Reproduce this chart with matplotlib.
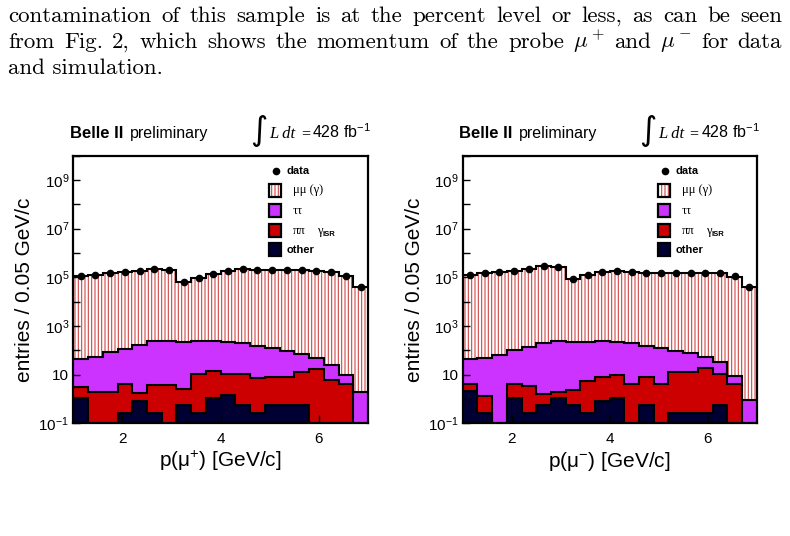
import numpy as np
import matplotlib
matplotlib.use('Agg')
import matplotlib.pyplot as plt
from matplotlib.patches import Rectangle
from matplotlib.ticker import NullLocator

plt.rcParams['font.family'] = ['Liberation Sans', 'DejaVu Sans']
plt.rcParams['mathtext.fontset'] = 'custom'
plt.rcParams['mathtext.rm'] = 'Liberation Sans'
plt.rcParams['mathtext.it'] = 'Liberation Sans:italic'
plt.rcParams['mathtext.bf'] = 'Liberation Sans:bold'
plt.rcParams['hatch.linewidth'] = 0.8

W, H = 790, 536

# bin edges in GeV/c
edges = np.round(np.arange(1.0, 7.01, 0.3), 2)

# probe mu+
data_p = [1.16e5, 1.28e5, 1.45e5, 1.59e5, 1.86e5, 2.25e5, 1.99e5, 6.6e4, 9.3e4, 1.36e5,
          1.86e5, 2.18e5, 1.99e5, 1.99e5, 1.99e5, 1.92e5, 1.86e5, 1.64e5, 1.16e5, 3.9e4]
mumu_p = [1.15e5, 1.27e5, 1.44e5, 1.58e5, 1.85e5, 2.24e5, 1.98e5, 6.6e4, 9.2e4, 1.35e5,
          1.85e5, 2.17e5, 1.98e5, 1.98e5, 1.98e5, 1.91e5, 1.85e5, 1.63e5, 1.15e5, 3.9e4]
tautau_p = [42, 50, 82, 111, 171, 247, 240, 219, 227, 230,
            219, 185, 150, 118, 90, 60, 33, 20, 5.1, 1.9]
pipi_p = [2.0, 1.9, 1.9, 4.0, 0.93, 3.6, 3.6, 2.1, 9.9, 12.9,
          8.8, 10.4, 6.9, 7.4, 7.7, 11.8, 16.3, 5.8, 4.2, 0]
other_p = [1.1, 0, 0, 0.27, 0.82, 0.27, 0, 0.55, 0.27, 1.1,
           1.4, 0.55, 0.27, 0.55, 0.55, 0.55, 0, 0, 0, 0]

# probe mu-
data_m = [1.24e5, 1.45e5, 1.59e5, 1.86e5, 2.18e5, 2.81e5, 2.55e5, 8.5e4, 1.24e5, 1.70e5,
          1.86e5, 1.70e5, 1.55e5, 1.45e5, 1.45e5, 1.45e5, 1.50e5, 1.50e5, 1.09e5, 3.9e4]
mumu_m = [1.23e5, 1.44e5, 1.58e5, 1.85e5, 2.17e5, 2.80e5, 2.54e5, 8.4e4, 1.23e5, 1.69e5,
          1.85e5, 1.69e5, 1.54e5, 1.44e5, 1.44e5, 1.44e5, 1.49e5, 1.49e5, 1.08e5, 3.9e4]
tautau_m = [38, 48, 67, 104, 140, 194, 249, 227, 224, 229,
            219, 192, 149, 118, 85, 63, 37, 22, 4.4, 0.88]
pipi_m = [1.9, 1.0, 0, 2.9, 3.0, 1.0, 0.8, 1.9, 5.0, 7.4,
          8.8, 4.0, 7.7, 4.0, 12.4, 12.4, 18.2, 10.4, 4.0, 0]
other_m = [2.1, 0.27, 0, 1.1, 0.27, 0.55, 1.1, 0.55, 0.27, 0.8,
           1.1, 0, 0.55, 0, 0.27, 0.27, 0.27, 0.55, 0, 0]

ytick_exp = list(range(-1, 11))
ytick_labels = ['' if e % 2 == 0 else ('10' if e == 1 else r'$10^{%d}$' % e) for e in ytick_exp]

fill_colors = ['#000033', '#cc0000', '#cc33ff']
hatch_color = '#d04848'
page_line1 = 'contamination of this sample is at the percent level or less, as can be seen'
page_line2 = r'from Fig. 2, which shows the momentum of the probe $\mu^+$ and $\mu^-$ for data'
page_line3 = 'and simulation.'


def draw_panel(ax, data, mumu, tautau, pipi, other, xlabel):
    cum = np.cumsum(np.array([other, pipi, tautau, mumu], float), axis=0)
    lo = np.full(len(edges) - 1, 1e-3)
    for i in range(4):
        top = np.maximum(cum[i], 1e-3)
        if i < 3:
            ax.stairs(top, edges, baseline=lo, fill=True, color=fill_colors[i], lw=0)
        else:
            ax.stairs(top, edges, baseline=lo, fill=True, facecolor='white',
                      edgecolor=hatch_color, hatch='|||||', lw=0)
        lo = top
    for i in range(4):
        ax.stairs(np.maximum(cum[i], 1e-3), edges, baseline=None, color='k', lw=1.5)
    centers = 0.5 * (edges[1:] + edges[:-1])
    ax.plot(centers, data, 'o', color='k', ms=4.5, zorder=5)

    ax.set_yscale('log')
    ax.set_xlim(1, 7)
    ax.set_ylim(0.1, 1e10)
    ax.set_yticks([10.0 ** e for e in ytick_exp])
    ax.set_yticklabels(ytick_labels)
    ax.yaxis.set_minor_locator(NullLocator())
    ax.set_xticks([2, 4, 6])
    ax.set_xticklabels(['2', '4', '6'])
    ax.xaxis.set_minor_locator(NullLocator())
    ax.tick_params(axis='y', direction='in', length=5, width=1, labelsize=11, pad=3)
    ax.tick_params(axis='x', direction='in', length=6, width=1, labelsize=11, pad=6)
    for s in ax.spines.values():
        s.set_linewidth(1.6)

    tr = ax.transAxes
    ax.text(-0.164, 0.5, 'entries / 0.05 GeV/c', rotation=90, fontsize=15,
            ha='center', va='center', transform=tr)
    ax.text(0.5, -0.141, xlabel, fontsize=15, ha='center', va='center', transform=tr)

    # header
    ax.text(-0.011, 1.066, 'Belle II', weight='bold', fontsize=12, va='baseline', transform=tr)
    ax.text(0.192, 1.066, 'preliminary', fontsize=11.5, va='baseline', transform=tr)
    ax.text(0.600, 1.093, '\u222b', family='DejaVu Sans', fontsize=24, va='center', transform=tr)
    ax.text(0.664, 1.066, 'L dt', family='Liberation Serif', style='italic', fontsize=12,
            va='baseline', transform=tr)
    ax.text(0.772, 1.066, '=', family='Liberation Serif', fontsize=11.5, va='baseline', transform=tr)
    ax.text(0.810, 1.066, r'428 fb$^{-1}$', fontsize=11.5, va='baseline', transform=tr)

    # legend
    ax.plot([0.688], [0.944], 'o', color='k', ms=4.5, transform=tr, clip_on=False, zorder=6)
    ax.text(0.725, 0.944, 'data', weight='bold', fontsize=8, va='center', transform=tr)
    box_x, box_w, box_h = 0.664, 0.041, 0.048
    rows = [0.870, 0.795, 0.720, 0.648]
    ax.add_patch(Rectangle((box_x, rows[0] - box_h / 2), box_w, box_h, transform=tr,
                           facecolor='white', edgecolor=hatch_color, hatch='|||||', lw=0,
                           zorder=6))
    for y, c in zip(rows[1:], ['#cc33ff', '#cc0000', '#000033']):
        ax.add_patch(Rectangle((box_x, y - box_h / 2), box_w, box_h, transform=tr,
                               facecolor=c, edgecolor='none', zorder=6))
    for y in rows:
        ax.add_patch(Rectangle((box_x, y - box_h / 2), box_w, box_h, transform=tr,
                               facecolor='none', edgecolor='k', lw=1.6, zorder=7))
    ax.text(0.745, rows[0], '\u03bc\u03bc (\u03b3)', family='Liberation Serif', fontsize=9,
            va='center', transform=tr)
    ax.text(0.745, rows[1], '\u03c4\u03c4', family='Liberation Serif', fontsize=9,
            va='center', transform=tr)
    ax.text(0.745, rows[2], '\u03c0\u03c0', family='Liberation Serif', fontsize=9,
            va='center', transform=tr)
    ax.text(0.827, rows[2], '\u03b3', family='Liberation Serif', fontsize=9,
            va='center', transform=tr)
    ax.text(0.845, rows[2] - 0.015, 'ISR', weight='bold', fontsize=5.5,
            va='center', transform=tr)
    ax.text(0.725, rows[3], 'other', weight='bold', fontsize=8, va='center', transform=tr)


def justify(fig, text, x0, x1, y, **kw):
    r = fig.canvas.get_renderer()
    words = text.split(' ')
    texts = [fig.text(0, 1 - y / H, w, va='baseline', **kw) for w in words]
    widths = [t.get_window_extent(r).width for t in texts]
    gap = (x1 - x0 - sum(widths)) / (len(words) - 1)
    x = x0
    for t, w in zip(texts, widths):
        t.set_x(x / W)
        x += w + gap


fig = plt.figure(figsize=(W / 100, H / 100), dpi=100)
ax1 = fig.add_axes([73.3 / W, 1 - 423.3 / H, 294.7 / W, 267.6 / H])
ax2 = fig.add_axes([462.7 / W, 1 - 423.3 / H, 294.0 / W, 267.6 / H])

draw_panel(ax1, data_p, mumu_p, tautau_p, pipi_p, other_p, r'p(μ$^{+}$) [GeV/c]')
draw_panel(ax2, data_m, mumu_m, tautau_m, pipi_m, other_m, r'p(μ$^{-}$) [GeV/c]')

page_kw = dict(family='cmr10', math_fontfamily='cm', fontsize=16.5)
justify(fig, page_line1, 8, 782, 22, **page_kw)
justify(fig, page_line2, 8, 782, 48, **page_kw)
fig.text(8 / W, 1 - 74 / H, page_line3, va='baseline', **page_kw)

fig.savefig('out.png', dpi=100)
